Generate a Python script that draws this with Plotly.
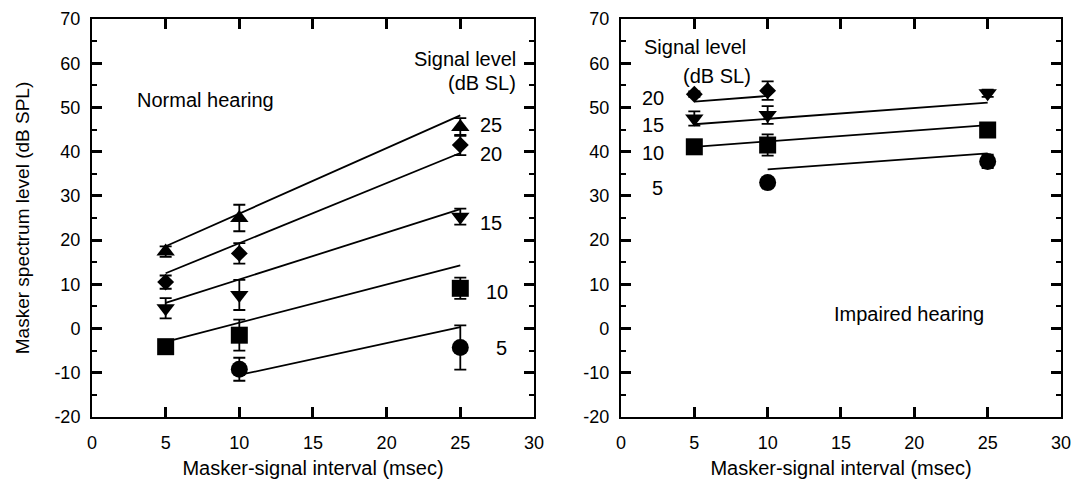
import plotly.graph_objects as go

# ---- data: Normal hearing (left panel) ----
interval = [5, 10, 25]
nh_25 = [17.4, 25.0, 45.6]
nh_25_err = [1.2, 3.0, 2.0]
nh_20 = [10.5, 17.0, 41.5]
nh_20_err = [1.5, 2.3, 2.3]
nh_15 = [4.6, 7.6, 25.3]
nh_15_err = [2.3, 3.4, 1.8]
nh_10 = [-4.1, -1.5, 9.1]
nh_10_err = [1.0, 3.5, 2.4]
nh_5_x = [10, 25]
nh_5 = [-9.2, -4.3]
nh_5_err = [2.6, 5.0]

nh_fit_x = [5, 25]
nh_fit_25 = [18.6, 48.2]
nh_fit_20 = [12.5, 39.7]
nh_fit_15 = [5.8, 27.0]
nh_fit_10 = [-3.0, 14.3]
nh_fit_5_x = [10, 25]
nh_fit_5 = [-10.5, 0.3]

# ---- data: Impaired hearing (right panel) ----
ih_20_x = [5, 10]
ih_20 = [53.0, 53.8]
ih_20_err = [0.6, 2.1]
ih_15 = [47.5, 48.3, 53.2]
ih_15_err = [1.6, 2.0, 0.8]
ih_10 = [41.1, 41.5, 44.9]
ih_10_err = [1.0, 2.4, 1.0]
ih_5_x = [10, 25]
ih_5 = [33.0, 37.8]
ih_5_err = [0.8, 1.5]

ih_fit_20_x = [5, 10]
ih_fit_20 = [51.3, 52.6]
ih_fit_x = [5, 25]
ih_fit_15 = [46.2, 51.1]
ih_fit_10 = [41.1, 46.0]
ih_fit_5_x = [10, 25]
ih_fit_5 = [36.0, 39.6]

# ---- tick labels ----
x_tickvals = [0, 5, 10, 15, 20, 25, 30]
x_ticktext = ["0", "5", "10", "15", "20", "25", "30"]
y_tickvals = [-20, -10, 0, 10, 20, 30, 40, 50, 60, 70]
y_ticktext = ["-20", "-10", "0", "10", "20", "30", "40", "50", "60", "70"]

FONT = "Liberation Sans, Arial, Helvetica, sans-serif"
BLACK = "#000000"

fig = go.Figure()


def pts(x, y, err, symbol, size, xa, ya):
    fig.add_trace(go.Scatter(
        x=x, y=y, mode="markers", xaxis=xa, yaxis=ya,
        marker=dict(symbol=symbol, size=size, color=BLACK, line=dict(width=0)),
        error_y=dict(type="data", array=err, color=BLACK, thickness=1.8, width=6),
        showlegend=False, hoverinfo="x+y"))


def fit(x, y, xa, ya):
    fig.add_trace(go.Scatter(
        x=x, y=y, mode="lines", xaxis=xa, yaxis=ya,
        line=dict(color=BLACK, width=1.8), showlegend=False, hoverinfo="skip"))


# left panel
fit(nh_fit_x, nh_fit_25, "x", "y")
fit(nh_fit_x, nh_fit_20, "x", "y")
fit(nh_fit_x, nh_fit_15, "x", "y")
fit(nh_fit_x, nh_fit_10, "x", "y")
fit(nh_fit_5_x, nh_fit_5, "x", "y")
pts(interval, nh_25, nh_25_err, "triangle-up", 16, "x", "y")
pts(interval, nh_20, nh_20_err, "diamond", 13, "x", "y")
pts(interval, nh_15, nh_15_err, "triangle-down", 16, "x", "y")
pts(interval, nh_10, nh_10_err, "square", 17, "x", "y")
pts(nh_5_x, nh_5, nh_5_err, "circle", 17, "x", "y")

# right panel
fit(ih_fit_20_x, ih_fit_20, "x2", "y2")
fit(ih_fit_x, ih_fit_15, "x2", "y2")
fit(ih_fit_x, ih_fit_10, "x2", "y2")
fit(ih_fit_5_x, ih_fit_5, "x2", "y2")
pts(ih_20_x, ih_20, ih_20_err, "diamond", 13, "x2", "y2")
pts(interval, ih_15, ih_15_err, "triangle-down", 16, "x2", "y2")
pts(interval, ih_10, ih_10_err, "square", 17, "x2", "y2")
pts(ih_5_x, ih_5, ih_5_err, "circle", 17, "x2", "y2")

base = dict(showline=True, linecolor=BLACK, linewidth=2, automargin=False,
            showgrid=False, zeroline=False, ticks="inside", ticklen=10, tickwidth=2.5,
            tickcolor=BLACK, mirror="allticks",
            tickfont=dict(family=FONT, size=18, color=BLACK))

xax = dict(base, range=[0, 30], tickmode="array", tickvals=x_tickvals, ticktext=x_ticktext,
           ticklabelstandoff=8,
           title=dict(text="Masker-signal interval (msec)",
                      font=dict(family=FONT, size=20, color=BLACK), standoff=12))
yax = dict(base, range=[-20, 70], tickmode="array", tickvals=y_tickvals, ticktext=y_ticktext,
           ticklabelstandoff=6,
           minor=dict(dtick=5, tick0=0, ticks="inside", ticklen=5, tickwidth=2,
                      tickcolor=BLACK))

fig.update_layout(
    template="none",
    width=1075, height=479,
    margin=dict(l=92, r=14, t=19, b=62),
    paper_bgcolor="white", plot_bgcolor="white",
    font=dict(family=FONT, size=18, color=BLACK),
    xaxis=dict(xax, domain=[0, 0.4561], anchor="y"),
    yaxis=dict(yax, domain=[0, 1], anchor="x",
               title=dict(text="Masker spectrum level (dB SPL)",
                          font=dict(family=FONT, size=19, color=BLACK), standoff=20)),
    xaxis2=dict(xax, domain=[0.5459, 1], anchor="y2"),
    yaxis2=dict(yax, domain=[0, 1], anchor="x2"),
)

ann = []


def txt(x, y, s, xref, yref, xanchor="left", size=20):
    ann.append(dict(x=x, y=y, text=s, xref=xref, yref=yref, showarrow=False,
                    xanchor=xanchor, yanchor="middle",
                    font=dict(family=FONT, size=size, color=BLACK)))


txt(2.9, 51.7, "Normal hearing", "x", "y")
txt(28.9, 61.0, "Signal level", "x", "y", "right")
txt(28.9, 55.5, "(dB SL)", "x", "y", "right")
txt(26.2, 46.0, "25", "x", "y")
txt(26.2, 39.5, "20", "x", "y")
txt(26.2, 23.9, "15", "x", "y")
txt(26.6, 8.3, "10", "x", "y")
txt(27.3, -4.4, "5", "x", "y")

txt(1.4, 63.6, "Signal level", "x2", "y2")
txt(4.1, 57.0, "(dB SL)", "x2", "y2")
txt(1.3, 52.2, "20", "x2", "y2")
txt(1.3, 46.0, "15", "x2", "y2")
txt(1.3, 39.8, "10", "x2", "y2")
txt(2.0, 31.8, "5", "x2", "y2")
txt(14.4, 3.2, "Impaired hearing", "x2", "y2")

fig.update_layout(annotations=ann)
fig.write_html("out.html")
